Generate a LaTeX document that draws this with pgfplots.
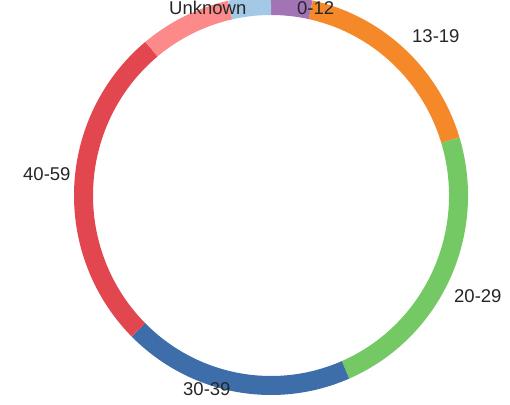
\documentclass[border=0pt]{standalone}
\usepackage{pgfplots}
\usepackage{pgfplotstable}
\pgfplotsset{compat=1.18}
\usepackage{fontspec}
\setmainfont{Liberation Sans}

% age groups, share of the total in percent (clockwise from the top)
\pgfplotstableread{
group share
0-12 3.4
13-19 16.9
20-29 23.2
30-39 19.0
40-59 26.5
60+ 7.5
Unknown 3.5
}\agedata

\definecolor{seg0}{HTML}{A374B5}
\definecolor{seg1}{HTML}{F5892A}
\definecolor{seg2}{HTML}{74C964}
\definecolor{seg3}{HTML}{3D6EAA}
\definecolor{seg4}{HTML}{E2464E}
\definecolor{seg5}{HTML}{FC8A8A}
\definecolor{seg6}{HTML}{A3C9E6}
\definecolor{lbl}{HTML}{262626}

\tikzset{grouplabel/.style={anchor=base west, inner sep=0pt, text=lbl,
  font=\fontsize{18.5pt}{22pt}\selectfont}}

\begin{document}
\begin{tikzpicture}
\begin{axis}[
  hide axis,
  scale only axis,
  x=1pt, y=1pt,
  xmin=0, xmax=510, ymin=0, ymax=404,
  clip=false,
]
% ring segments, one arc per age group
\pgfplotstablegetrowsof{\agedata}
\pgfmathtruncatemacro\lastrow{\pgfplotsretval-1}
\def\cum{0}
\pgfplotsforeachungrouped \i in {0,...,\lastrow}{%
  \pgfplotstablegetelem{\i}{share}\of\agedata
  \pgfmathsetmacro\a{90-3.6*\cum}%
  \pgfmathsetmacro\cum{\cum+\pgfplotsretval}%
  \pgfmathsetmacro\b{90-3.6*\cum}%
  \edef\temp{\noexpand\draw[line width=19pt, color=seg\i]
    (axis cs:271,208.5) ++(\a:187.5pt and 190pt)
    arc[start angle=\a, end angle=\b, x radius=187.5pt, y radius=190pt];}%
  \temp
}
% group labels
\node[grouplabel] at (axis cs:169,389) {Unknown};
\node[grouplabel] at (axis cs:297,389) {0-12};
\node[grouplabel] at (axis cs:412,361.5) {13-19};
\node[grouplabel] at (axis cs:23,223) {40-59};
\node[grouplabel] at (axis cs:454,102) {20-29};
\node[grouplabel] at (axis cs:183,9) {30-39};
\end{axis}
\pgfresetboundingbox
\path[use as bounding box] (current axis.south west) rectangle (current axis.north east);
\end{tikzpicture}
\end{document}
